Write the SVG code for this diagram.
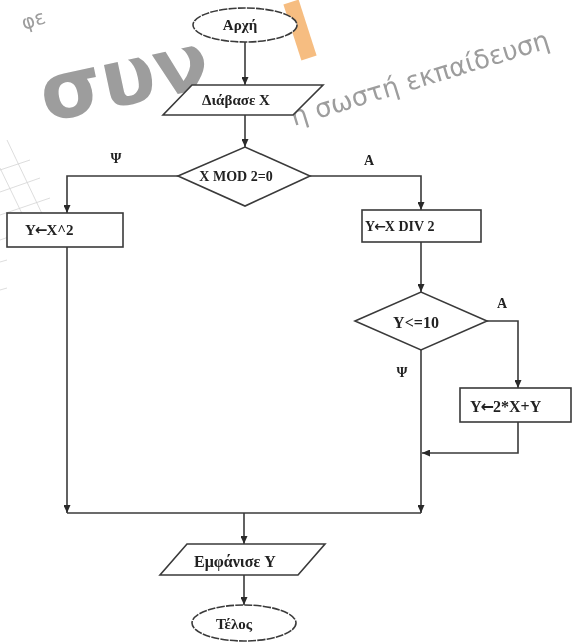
<svg xmlns="http://www.w3.org/2000/svg" width="573" height="643" viewBox="0 0 573 643">
<defs>
<style>
.shape{fill:#fff;stroke:#3a3a3a;stroke-width:1.6}
.oval{fill:#fff;stroke:#3a3a3a;stroke-width:1.6;stroke-dasharray:8 1.2}
.wire{fill:none;stroke:#3a3a3a;stroke-width:1.6}
.t{font-family:"Liberation Serif","Times New Roman",serif;font-weight:bold;fill:#222}
.arr{font-family:"DejaVu Sans",sans-serif;font-weight:bold}
.wm{font-family:"DejaVu Sans","Noto Sans",sans-serif;fill:#8c8c8c}
.grid{stroke:#d4d4d4;stroke-width:0.8}
</style>
<marker id="ah" viewBox="0 0 8 7" refX="8" refY="3.5" markerWidth="8" markerHeight="7" markerUnits="userSpaceOnUse" orient="auto">
<path d="M0,0 L8,3.5 L0,7 z" fill="#2a2a2a"/>
</marker>
</defs>
<rect width="573" height="643" fill="#fff"/>

<g id="background-grid">
<line class="grid" x1="7" y1="140" x2="45" y2="220"/>
<line class="grid" x1="0" y1="168" x2="28" y2="226"/>
<line class="grid" x1="0" y1="170" x2="30" y2="160"/>
<line class="grid" x1="0" y1="192" x2="40" y2="178"/>
<line class="grid" x1="0" y1="215" x2="50" y2="198"/>
<line class="grid" x1="0" y1="240" x2="40" y2="226"/>
<line class="grid" x1="0" y1="262" x2="7" y2="260"/>
<line class="grid" x1="0" y1="290" x2="7" y2="288"/>
</g>

<g id="watermark" opacity="0.85">
<text class="wm" x="24" y="30" font-size="20" transform="rotate(-18 24 30)">φε</text>
<text class="wm" x="46" y="122" font-size="80" font-weight="bold" transform="rotate(-12 46 122)">συν</text>
<line x1="291" y1="2" x2="309" y2="58" stroke="#f5b26b" stroke-width="16"/>
<text class="wm" x="294" y="126" font-size="26" transform="rotate(-17 294 126)">η σωστή εκπαίδευση</text>
</g>

<g id="connectors">
<line class="wire" x1="245" y1="42" x2="245" y2="85" marker-end="url(#ah)"/>
<line class="wire" x1="245" y1="115" x2="245" y2="147" marker-end="url(#ah)"/>
<polyline class="wire" points="178,176 67,176 67,213" marker-end="url(#ah)"/>
<polyline class="wire" points="310,176 421,176 421,210" marker-end="url(#ah)"/>
<line class="wire" x1="67" y1="247" x2="67" y2="513" marker-end="url(#ah)"/>
<line class="wire" x1="421" y1="242" x2="421" y2="292" marker-end="url(#ah)"/>
<polyline class="wire" points="487,321 518,321 518,388" marker-end="url(#ah)"/>
<polyline class="wire" points="518,422 518,453 422,453" marker-end="url(#ah)"/>
<line class="wire" x1="421" y1="350" x2="421" y2="513" marker-end="url(#ah)"/>
<line class="wire" x1="67" y1="513" x2="421" y2="513"/>
<line class="wire" x1="244" y1="513" x2="244" y2="544" marker-end="url(#ah)"/>
<line class="wire" x1="244" y1="575" x2="244" y2="605" marker-end="url(#ah)"/>
<text class="t" x="116" y="163" font-size="14" text-anchor="middle">Ψ</text>
<text class="t" x="369" y="165" font-size="14" text-anchor="middle">A</text>
<text class="t" x="502" y="308" font-size="14" text-anchor="middle">A</text>
<text class="t" x="402" y="377" font-size="14" text-anchor="middle">Ψ</text>
</g>

<g id="start">
<ellipse class="oval" cx="245" cy="25" rx="52" ry="17"/>
<text class="t" x="240" y="30" font-size="15" text-anchor="middle">Αρχή</text>
</g>

<g id="read-x">
<polygon class="shape" points="192,85 323,85 293,115 163,115"/>
<text class="t" x="236" y="105" font-size="15" text-anchor="middle">Διάβασε X</text>
</g>

<g id="decision-mod">
<polygon class="shape" points="178,176 245,147 310,176 245,206"/>
<text class="t" x="236" y="181" font-size="14" text-anchor="middle">X MOD 2=0</text>
</g>

<g id="assign-square">
<rect class="shape" x="7" y="213" width="116" height="34"/>
<text class="t" x="25" y="235" font-size="15">Y<tspan class="arr" dx="-1">←</tspan><tspan dx="-1">X^2</tspan></text>
</g>

<g id="assign-div">
<rect class="shape" x="362" y="210" width="119" height="32"/>
<text class="t" x="365" y="231" font-size="14">Y<tspan class="arr" dx="-1">←</tspan><tspan dx="-1">X DIV 2</tspan></text>
</g>

<g id="decision-le10">
<polygon class="shape" points="355,321 421,292 487,321 421,350"/>
<text class="t" x="416" y="328" font-size="16" text-anchor="middle">Y&lt;=10</text>
</g>

<g id="assign-sum">
<rect class="shape" x="460" y="388" width="111" height="34"/>
<text class="t" x="470" y="412" font-size="16">Y<tspan class="arr" dx="-1">←</tspan><tspan dx="-1">2*X+Y</tspan></text>
</g>

<g id="print-y">
<polygon class="shape" points="187,544 325,544 298,575 160,575"/>
<text class="t" x="235" y="567" font-size="16" text-anchor="middle">Εμφάνισε Y</text>
</g>

<g id="end">
<ellipse class="oval" cx="244" cy="623" rx="52" ry="18"/>
<text class="t" x="234" y="629" font-size="15" text-anchor="middle">Τέλος</text>
</g>
</svg>
